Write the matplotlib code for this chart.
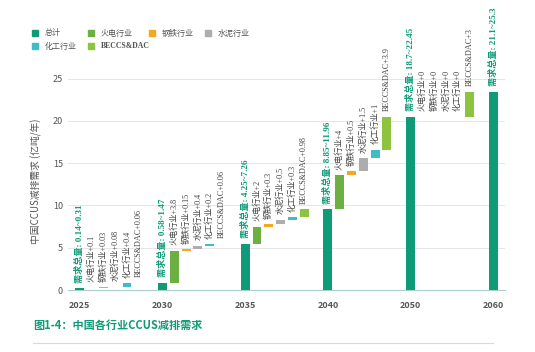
import matplotlib
matplotlib.use("Agg")
import matplotlib.pyplot as plt
from matplotlib.patches import Rectangle

plt.rcParams['font.family'] = ['Noto Sans CJK SC', 'DejaVu Sans']

years = ["2025", "2030", "2035", "2040", "2050", "2060"]
totals = [0.2, 0.87, 5.48, 9.56, 20.46, 23.46]
total_ranges = ["0.14~0.31", "0.58~1.47", "4.25~7.26", "8.85~11.96", "18.7~22.45", "21.1~25.3"]

sectors = ["火电行业", "钢铁行业", "水泥行业", "化工行业", "BECCS&DAC"]
# increments per sector for each step (2060 has none)
increments = {
    "火电行业": [0.1, 3.8, 2, 4, 0],
    "钢铁行业": [0.03, 0.15, 0.3, 0.5, 0],
    "水泥行业": [0.08, 0.4, 0.5, 1.5, 0],
    "化工行业": [0.4, 0.2, 0.3, 1, 0],
    "BECCS&DAC": [0.06, 0.06, 0.98, 3.9, 3],
}
inc_labels = {
    "火电行业": ["0.1", "3.8", "2", "4", "0"],
    "钢铁行业": ["0.03", "0.15", "0.3", "0.5", "0"],
    "水泥行业": ["0.08", "0.4", "0.5", "1.5", "0"],
    "化工行业": ["0.4", "0.2", "0.3", "1", "0"],
    "BECCS&DAC": ["0.06", "0.06", "0.98", "3.9", "3"],
}

teal = "#0f9a78"
colors = {
    "火电行业": "#6cb043",
    "钢铁行业": "#f4a81d",
    "水泥行业": "#adadad",
    "化工行业": "#3dbdc6",
    "BECCS&DAC": "#8cc43f",
}
serif = ['Liberation Serif', 'Noto Sans CJK SC']

W, H = 535, 352
fig = plt.figure(figsize=(W / 100, H / 100), dpi=100)
ax = fig.add_axes([0.127, 0.176, 0.817, 0.62])

step = 7
w = 0.75
for g, year in enumerate(years):
    x0 = g * step
    ax.bar(x0, totals[g], width=w, color=teal, zorder=3)
    ax.annotate(f"需求总量: {total_ranges[g]}", (x0, totals[g]), xytext=(0, 4),
                textcoords="offset points", rotation=90, ha="center", va="bottom",
                fontsize=6.6, color=teal, fontweight="bold", family=serif)
    if g >= len(years) - 1:
        continue
    base = totals[g]
    for k, s in enumerate(sectors):
        v = increments[s][g]
        x = x0 + k + 1
        if v > 0:
            ax.bar(x, v, bottom=base, width=w, color=colors[s], zorder=3)
        else:
            ax.bar(x, 0.08, bottom=base - 0.04, width=w, color=colors[s], alpha=0.45, zorder=3)
        ax.annotate(f"{s}+{inc_labels[s][g]}", (x, base + v), xytext=(0, 4),
                    textcoords="offset points", rotation=90, ha="center", va="bottom",
                    fontsize=5.9, color="#444444", family=serif)
        base += v

ax.set_xlim(-1, 36)
ax.set_ylim(0, 25.8)
ax.set_yticks([0, 5, 10, 15, 20, 25])
ax.set_xticks([g * step for g in range(len(years))])
ax.set_xticklabels(years)
ax.tick_params(axis="both", length=0, labelsize=6.5, colors="#555555")
ax.tick_params(axis="x", pad=8)
for lab in ax.get_xticklabels():
    lab.set_fontweight("bold")
ax.grid(axis="y", color="#e6e6e6", linewidth=0.7, zorder=0)
for sp in ["top", "right", "left"]:
    ax.spines[sp].set_visible(False)
ax.spines["bottom"].set_color("#a9cfc9")
ax.spines["bottom"].set_linewidth(0.8)
ax.set_ylabel("中国CCUS减排需求 (亿吨/年)", fontsize=7, color="#555555", labelpad=8)

# legend laid out on a fixed grid like the original
legend_items = [("总计", teal)] + [(s, colors[s]) for s in sectors]
legend_slots = [(35, 33), (91, 33), (152, 33), (208, 33), (35, 46), (91, 46)]
box = 6
for (name, col), (px, py) in zip(legend_items, legend_slots):
    fig.add_artist(Rectangle(((px - box / 2) / W, 1 - (py + box / 2) / H), box / W, box / H,
                             transform=fig.transFigure, color=col))
    kw = dict(family=serif, fontweight="bold", fontsize=5.6) if name == "BECCS&DAC" else dict(fontsize=5.8)
    fig.text((px + 10) / W, 1 - py / H, name, color="#555555", va="center", **kw)

fig.text(0.062, 0.075, "图1-4：中国各行业CCUS减排需求", fontsize=8, color=teal,
         fontweight="bold", va="center")
fig.add_artist(plt.Line2D([0.062, 0.922], [0.026, 0.026], color="#d9d9d9", linewidth=0.8))

fig.savefig("out.png", dpi=100)
